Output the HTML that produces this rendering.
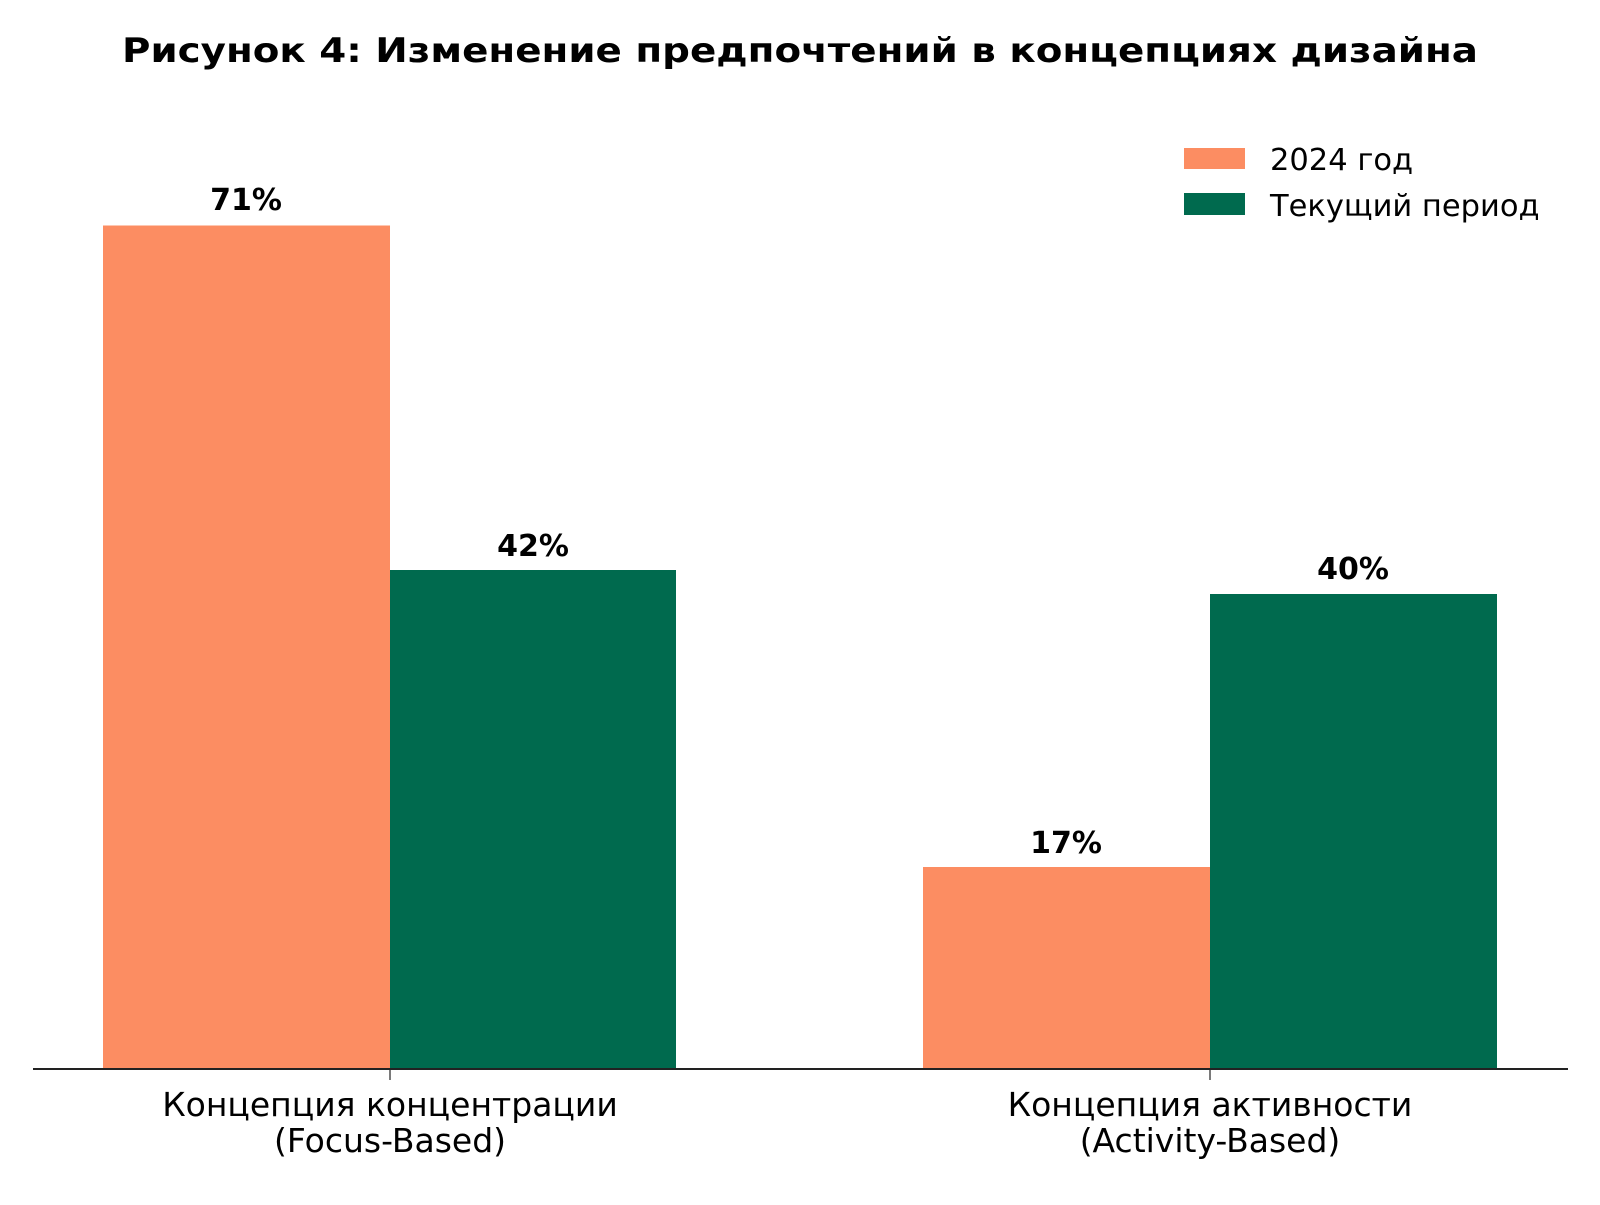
<!DOCTYPE html>
<html><head><meta charset="utf-8"><style>html,body{margin:0;padding:0;background:#fff}</style></head><body>
<svg width="1600" height="1200" xmlns="http://www.w3.org/2000/svg" font-family="DejaVu Sans, Liberation Sans, sans-serif">
<rect width="1600" height="1200" fill="#fff"/>
<text x="800" y="62" text-anchor="middle" font-size="34" font-weight="bold" textLength="1356" lengthAdjust="spacingAndGlyphs">Рисунок 4: Изменение предпочтений в концепциях дизайна</text>
<rect x="103" y="225.5" width="287" height="843.5" fill="#fc8d62"/>
<rect x="390" y="570" width="286" height="499" fill="#006a4e"/>
<rect x="923" y="867" width="287" height="202" fill="#fc8d62"/>
<rect x="1210" y="594" width="287" height="475" fill="#006a4e"/>
<g font-size="30" font-weight="bold" text-anchor="middle">
<text x="246" y="210">71%</text>
<text x="533" y="556">42%</text>
<text x="1066" y="853">17%</text>
<text x="1353" y="579">40%</text>
</g>
<line x1="33" y1="1069" x2="1568" y2="1069" stroke="#222" stroke-width="2"/>
<line x1="390" y1="1069" x2="390" y2="1080" stroke="#222" stroke-width="1.2"/>
<line x1="1210" y1="1069" x2="1210" y2="1080" stroke="#222" stroke-width="1.2"/>
<g font-size="33" text-anchor="middle">
<text x="390" y="1116">Концепция концентрации</text>
<text x="390" y="1152">(Focus-Based)</text>
<text x="1210" y="1116">Концепция активности</text>
<text x="1210" y="1152">(Activity-Based)</text>
</g>
<rect x="1184" y="148" width="61" height="21" fill="#fc8d62"/>
<rect x="1184" y="193" width="61" height="22" fill="#006a4e"/>
<g font-size="30.5">
<text x="1270" y="170">2024 год</text>
<text x="1270" y="216">Текущий период</text>
</g>
</svg>
</body></html>
